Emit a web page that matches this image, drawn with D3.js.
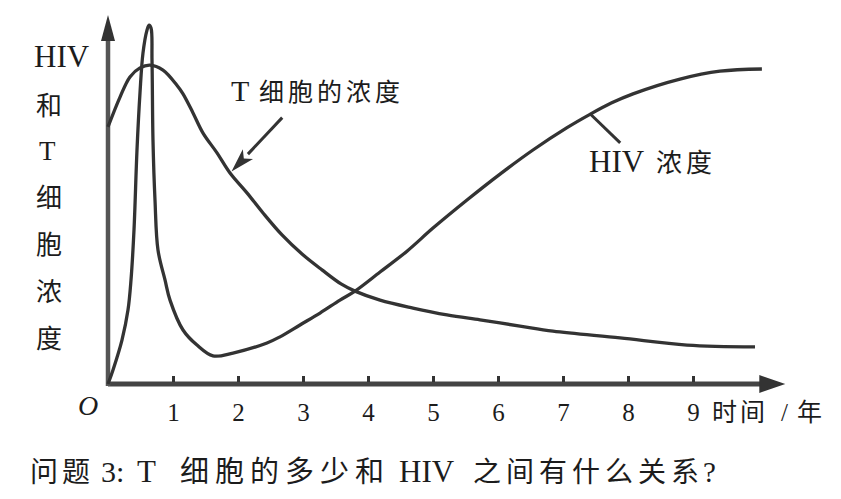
<!DOCTYPE html>
<html>
<head>
<meta charset="utf-8">
<script src="https://cdn.jsdelivr.net/npm/d3@7"></script>
<style>
  html, body { margin: 0; padding: 0; background: #fff; }
  svg { display: block; }
  text { fill: #1c1c1c; }
</style>
</head>
<body>
<script>
// ---------- data ----------
const xTicks = [1, 2, 3, 4, 5, 6, 7, 8, 9];
const xUnitParts = ["时间", "/", "年"];
const yLabelChars = ["HIV", "和", "T", "细", "胞", "浓", "度"];
const originLabel = "O";
const titleParts = ["问题", "3:", "T", "细胞的多少和", "HIV", "之间有什么关系", "?"];
const tLabelParts = ["T", "细胞的浓度"];
const hivLabelParts = ["HIV", "浓度"];

// HIV concentration (time in years, relative level 0-100)
const hivTime  = [0, 0.077, 0.215, 0.308, 0.354, 0.4, 0.446, 0.492, 0.538, 0.6, 0.631, 0.662, 0.677, 0.692, 0.723, 0.769, 0.877, 0.954, 1.154, 1.369, 1.615, 1.923, 2.446, 2.646, 2.954, 3.262, 3.569, 3.8, 4.185, 4.6, 5.0, 5.523, 6.031, 6.538, 7.062, 7.415, 7.75, 8.077, 8.8, 9.415, 10.06];
const hivValue = [0, 3.9, 12.2, 20.6, 28.9, 42.8, 65, 80.8, 91.9, 98.3, 99.7, 98.9, 90, 67.8, 51.1, 37.2, 28.9, 23.3, 15, 10.8, 7.8, 8.6, 11.4, 13.1, 16.4, 19.7, 23.3, 25.8, 31.1, 36.9, 43.3, 51.1, 58.3, 65, 71.2, 74.9, 78.1, 80.6, 84.7, 86.9, 87.5];

// T cell concentration
const tTime  = [0, 0.185, 0.338, 0.492, 0.646, 0.846, 1.06, 1.154, 1.308, 1.462, 1.677, 1.877, 2.138, 2.385, 2.677, 2.985, 3.292, 3.585, 3.8, 4.185, 4.692, 5.215, 5.723, 6.338, 6.846, 7.877, 8.908, 9.954];
const tValue = [71.4, 79.7, 85.3, 87.8, 88.6, 87.2, 83, 80.6, 75.3, 69.7, 64.2, 58.6, 53.1, 47.5, 41.4, 36.1, 31.7, 27.8, 25.8, 23.3, 21.1, 19.2, 17.8, 16.1, 14.7, 12.8, 10.8, 10.3];

// annotation anchors in data units [time, level]
const tArrowFrom = [2.68, 74];
const tArrowTo   = [1.9, 59];
const hivLeaderFrom = [7.42, 75];
const hivLeaderTo   = [7.88, 67];

// ---------- layout ----------
const W = 841, H = 499;
const svg = d3.select("body").append("svg").attr("width", W).attr("height", H);

const x = d3.scaleLinear().domain([0, 9]).range([108, 693]);
const y = d3.scaleLinear().domain([0, 100]).range([384, 24]);

const ink = "#333";
const serif = "'Liberation Serif', 'DejaVu Serif', 'Noto Sans CJK SC', serif";
const cjk = "'Noto Sans CJK SC', sans-serif";

function put(str, px, py, opts) {
  const isCJK = /[\u4e00-\u9fff]/.test(str);
  const t = svg.append("text").attr("x", px).attr("y", py)
    .attr("font-family", isCJK ? cjk : serif)
    .attr("font-size", opts.size)
    .text(str);
  if (opts.ls) t.attr("letter-spacing", opts.ls);
  if (opts.italic) t.attr("font-style", "italic");
  if (opts.anchor) t.attr("text-anchor", opts.anchor);
  return t;
}

// axes lines with arrows
const xEnd = 10.42, yEnd = 102.5;
svg.append("line").attr("x1", x(0)).attr("y1", y(0)).attr("x2", x(xEnd) - 10).attr("y2", y(0))
  .attr("stroke", "#444").attr("stroke-width", 5);
svg.append("path")
  .attr("d", `M${x(xEnd)},${y(0)} L${x(xEnd) - 26},${y(0) - 9} L${x(xEnd) - 26},${y(0) + 9} Z`)
  .attr("fill", "#333");
svg.append("line").attr("x1", x(0)).attr("y1", y(0) + 2).attr("x2", x(0)).attr("y2", y(yEnd) + 12)
  .attr("stroke", "#555").attr("stroke-width", 4.5);
svg.append("path")
  .attr("d", `M${x(0)},${y(yEnd)} L${x(0) - 7},${y(yEnd) + 26} L${x(0) + 7},${y(yEnd) + 26} Z`)
  .attr("fill", "#333");

// x axis ticks via d3 axis
const xAxis = d3.axisBottom(x).tickValues(xTicks).tickSize(-6).tickPadding(21).tickFormat(d3.format("d"));
const gx = svg.append("g").attr("transform", `translate(0,${y(0) - 2})`).call(xAxis);
gx.select(".domain").remove();
gx.selectAll(".tick line").attr("stroke", "#333").attr("stroke-width", 3);
gx.selectAll(".tick text").attr("font-family", serif).attr("font-size", 25).attr("fill", "#1c1c1c");

// origin label
put(originLabel, 88, 415, { size: 28, italic: true, anchor: "middle" });

// x unit label
const unitX = [712, 781, 797];
xUnitParts.forEach((s, i) => put(s, unitX[i], 421, { size: 25, ls: i === 0 ? 3 : 0 }));

// y label (vertical stack)
const yBase = [67, 115, 160, 207, 254, 301, 348];
yLabelChars.forEach((s, i) => {
  put(s, i === 0 ? 34 : (i === 2 ? 39 : 36), yBase[i], { size: i === 0 ? 31 : (i === 2 ? 27 : 26) });
});

// curves
const line = d3.line().x(d => x(d[0])).y(d => y(d[1])).curve(d3.curveCatmullRom.alpha(0.5));
const hivData = hivTime.map((t, i) => [t, hivValue[i]]);
const tData = tTime.map((t, i) => [t, tValue[i]]);
svg.append("path").datum(hivData).attr("d", line)
  .attr("fill", "none").attr("stroke", ink).attr("stroke-width", 3.3).attr("stroke-linejoin", "round");
svg.append("path").datum(tData).attr("d", line)
  .attr("fill", "none").attr("stroke", ink).attr("stroke-width", 3.3).attr("stroke-linejoin", "round");

// T cell arrow annotation
const ax1 = x(tArrowFrom[0]), ay1 = y(tArrowFrom[1]), ax2 = x(tArrowTo[0]), ay2 = y(tArrowTo[1]);
const ang = Math.atan2(ay2 - ay1, ax2 - ax1);
const headLen = 24, headW = 7;
const bx = ax2 - headLen * Math.cos(ang), by = ay2 - headLen * Math.sin(ang);
svg.append("line").attr("x1", ax1).attr("y1", ay1).attr("x2", bx).attr("y2", by)
  .attr("stroke", ink).attr("stroke-width", 3);
svg.append("path")
  .attr("d", `M${ax2},${ay2} L${bx + headW * Math.sin(ang)},${by - headW * Math.cos(ang)} L${bx + 6 * Math.cos(ang)},${by + 6 * Math.sin(ang)} L${bx - headW * Math.sin(ang)},${by + headW * Math.cos(ang)} Z`)
  .attr("fill", ink);

// HIV leader line
svg.append("line")
  .attr("x1", x(hivLeaderFrom[0])).attr("y1", y(hivLeaderFrom[1]))
  .attr("x2", x(hivLeaderTo[0])).attr("y2", y(hivLeaderTo[1]))
  .attr("stroke", ink).attr("stroke-width", 3);

// curve labels
put(tLabelParts[0], 231, 101, { size: 30 });
put(tLabelParts[1], 259, 101, { size: 25, ls: 4 });
put(hivLabelParts[0], 589, 172, { size: 31 });
put(hivLabelParts[1], 656, 172, { size: 26, ls: 4 });

// title
const titleX = [30, 101, 137, 180, 399, 473, 703];
const titleSize = [28, 30, 31, 29, 31, 28, 29];
const titleLs = [4, 0, 0, 6, 0, 5, 0];
titleParts.forEach((s, i) => put(s, titleX[i], 482, { size: titleSize[i], ls: titleLs[i] }));
</script>
</body>
</html>
